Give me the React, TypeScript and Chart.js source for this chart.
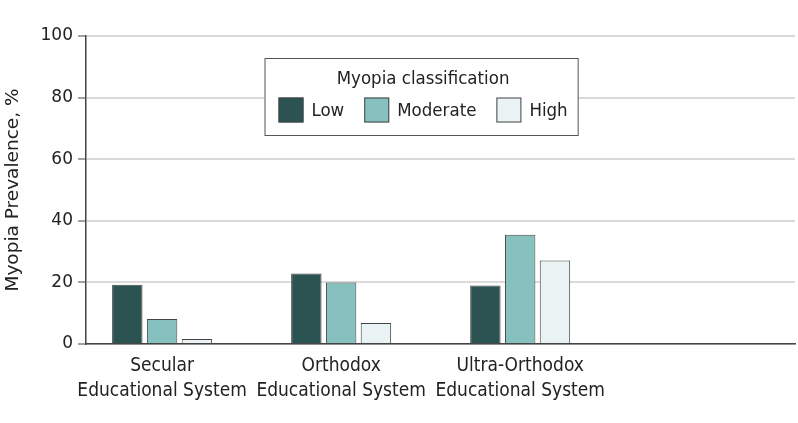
import React, { useEffect, useRef } from "react";
import { Chart, registerables } from "chart.js";

Chart.register(...registerables);

const categories = ["Secular", "Orthodox", "Ultra-Orthodox"];
const categorySub = "Educational System";
const seriesNames = ["Low", "Moderate", "High"];
const lowValues = [19.2, 22.9, 19.0];
const moderateValues = [8.1, 20.0, 35.5];
const highValues = [1.6, 6.8, 27.1];
const yTicks = [0, 20, 40, 60, 80, 100];

const fills = ["#2b5352", "#86c1c0", "#e9f3f4"];
const narrow = "'Liberation Sans Narrow', 'DejaVu Sans Condensed', sans-serif";
const regular = "'DejaVu Sans', sans-serif";

// legend box drawn inside the plot, the way the figure has it
const boxLegend = {
  id: "boxLegend",
  afterDraw(chart: any) {
    const { ctx, chartArea } = chart;
    const sets = chart.data.datasets;
    ctx.save();
    ctx.font = `18.5px ${narrow}`;
    const sw = 25;
    const gapText = 8;
    const gapItem = 20;
    const padL = 14;
    const padR = 10;
    const widths = sets.map((d: any) => ctx.measureText(d.label).width);
    const rowW = widths.reduce((a: number, w: number) => a + sw + gapText + w, 0) + gapItem * (sets.length - 1);
    const boxW = rowW + padL + padR;
    const left = chartArea.left + 178.5;
    const top = chartArea.top + 22;
    const boxH = 77;
    ctx.strokeStyle = "#555";
    ctx.lineWidth = 1;
    ctx.fillStyle = "#fff";
    ctx.fillRect(left, top, boxW, boxH);
    ctx.strokeRect(left + 0.5, top + 0.5, boxW, boxH);

    ctx.fillStyle = "#222";
    ctx.textAlign = "center";
    ctx.textBaseline = "middle";
    ctx.fillText("Myopia classification", left + boxW / 2 + 2, top + 21);

    let x = left + padL;
    const rowY = top + 52;
    ctx.textAlign = "left";
    sets.forEach((d: any, i: number) => {
      ctx.fillStyle = d.backgroundColor;
      ctx.fillRect(x, rowY - sw / 2, sw, sw);
      ctx.strokeStyle = "#444";
      ctx.strokeRect(x + 0.5, rowY - sw / 2 + 0.5, sw - 1, sw - 1);
      x += sw + gapText;
      ctx.fillStyle = "#222";
      ctx.fillText(d.label, x, rowY + 1);
      x += widths[i] + gapItem;
    });
    ctx.restore();
  },
};

const App: React.FC = () => {
  const chartRef = useRef<HTMLCanvasElement | null>(null);

  useEffect(() => {
    document.body.style.margin = "0";
    if (!chartRef.current) return;
    const ctx = chartRef.current.getContext("2d");
    if (!ctx) return;

    const allValues = [lowValues, moderateValues, highValues];

    const chart = new Chart(ctx, {
      type: "bar",
      data: {
        datasets: seriesNames.map((name, s) => ({
          label: name,
          data: allValues[s].map((v, i) => ({ x: i + 1, y: v })),
          backgroundColor: fills[s],
          borderColor: "#454545",
          borderWidth: 1,
          categoryPercentage: 0.583,
          barPercentage: 0.874,
        })),
      },
      options: {
        animation: false,
        responsive: true,
        maintainAspectRatio: false,
        layout: { padding: { top: 36, right: 3, left: 0, bottom: 0 } },
        plugins: {
          legend: { display: false },
          tooltip: { enabled: false },
        },
        scales: {
          x: {
            type: "linear",
            min: 0.575,
            max: 4.535,
            offset: false,
            bounds: "data",
            afterBuildTicks: (axis: any) => {
              axis.ticks = categories.map((_, i) => ({ value: i + 1 }));
            },
            afterFit: (axis: any) => {
              axis.height = 79;
            },
            grid: { display: false, drawTicks: false, offset: false },
            border: { display: true, color: "#444", width: 1.5 },
            ticks: {
              autoSkip: false,
              maxRotation: 0,
              padding: 10,
              color: "#222",
              font: { family: narrow, size: 19, lineHeight: 1.3 },
              callback: (value: any) => {
                const idx = Math.round(Number(value)) - 1;
                return categories[idx] ? [categories[idx], categorySub] : "";
              },
            },
          },
          y: {
            min: 0,
            max: 100,
            afterBuildTicks: (axis: any) => {
              axis.ticks = yTicks.map((v) => ({ value: v }));
            },
            afterFit: (axis: any) => {
              axis.width = 86;
            },
            grid: {
              color: "#dadada",
              lineWidth: 2,
              tickColor: "#444",
              tickLength: 8,
              tickWidth: 1,
            },
            border: { display: true, color: "#444", width: 1.5 },
            ticks: {
              padding: 5,
              color: "#222",
              font: { family: regular, size: 17 },
            },
            title: {
              display: true,
              text: "Myopia Prevalence, %",
              color: "#222",
              font: { family: regular, size: 18.5 },
              padding: { top: 2, bottom: 0 },
            },
          },
        },
      },
      plugins: [boxLegend],
    });

    return () => {
      chart.destroy();
    };
  }, []);

  return (
    <div style={{ position: "absolute", left: 0, top: 0, width: 798, height: 423, background: "#fff" }}>
      <canvas ref={chartRef}></canvas>
    </div>
  );
};

export default App;
